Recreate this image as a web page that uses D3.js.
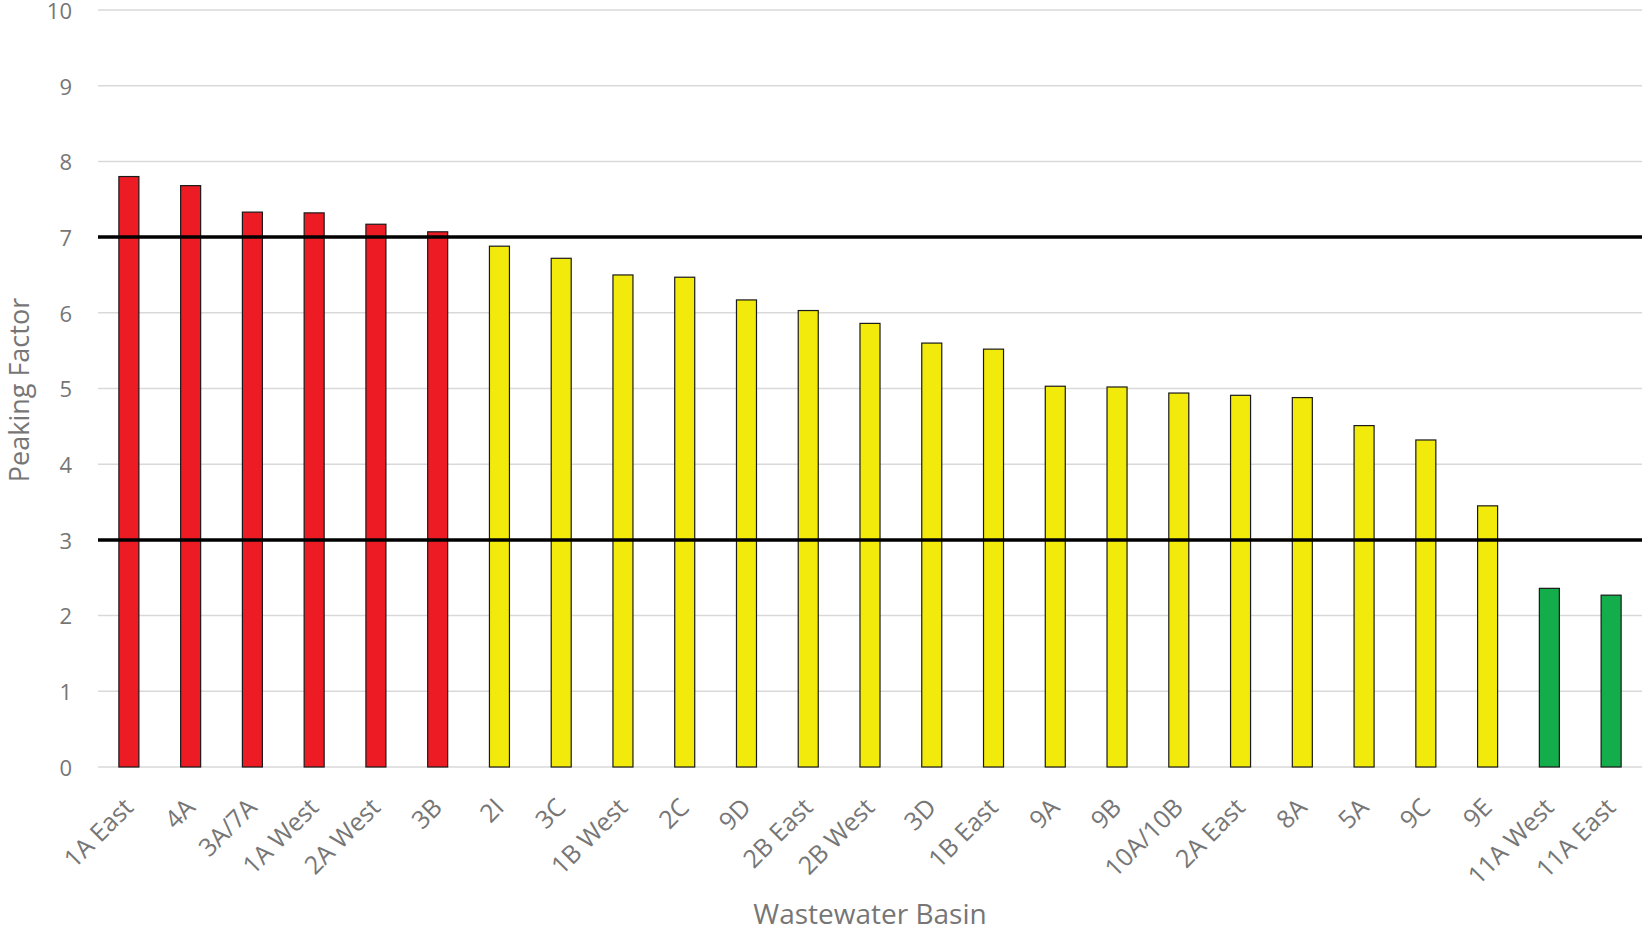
<!DOCTYPE html>
<html><head><meta charset="utf-8">
<script src="https://cdn.jsdelivr.net/npm/d3@7"></script>
<style>
html,body{margin:0;padding:0;background:#fff;}
svg{display:block;}
text{font-family:"Open Sans","Lato",sans-serif;}
</style></head>
<body><svg id="chart" width="1642" height="934"></svg>
<script>
const categories = ["1A East","4A","3A/7A","1A West","2A West","3B","2I","3C","1B West","2C","9D","2B East","2B West","3D","1B East","9A","9B","10A/10B","2A East","8A","5A","9C","9E","11A West","11A East"];
const values = [7.80,7.68,7.33,7.32,7.17,7.07,6.88,6.72,6.50,6.47,6.17,6.03,5.86,5.60,5.52,5.03,5.02,4.94,4.91,4.88,4.51,4.32,3.45,2.36,2.27];
const groups = ["high","high","high","high","high","high","mid","mid","mid","mid","mid","mid","mid","mid","mid","mid","mid","mid","mid","mid","mid","mid","mid","low","low"];
const yTicks = [0,1,2,3,4,5,6,7,8,9,10];
const thresholds = [7,3];
const groupColors = {high:"#ED1C24", mid:"#F2EA0A", low:"#13AD4B"};

(function(){
const svg = d3.select("#chart");
const mLeft = 98, mRight = 1642, mTop = 10, mBottom = 767;

const x = d3.scaleBand().domain(categories).range([mLeft, mRight]).paddingInner(0.676).paddingOuter(0.338);
const y = d3.scaleLinear().domain([0,10]).range([mBottom, mTop]);

// gridlines
svg.append("g").selectAll("line").data(yTicks).join("line")
  .attr("x1", mLeft).attr("x2", mRight)
  .attr("y1", d=>y(d)).attr("y2", d=>y(d))
  .attr("stroke", "#d9d9d9").attr("stroke-width", 1.5);

// y tick labels
const yAxis = d3.axisLeft(y).tickValues(yTicks).tickSize(0).tickPadding(0);
const ya = svg.append("g").attr("transform", `translate(${mLeft-26},0)`).call(yAxis);
ya.select(".domain").remove();
ya.selectAll("text").attr("fill","#767676").style("font-size","22px").style("font-family",'"Open Sans",sans-serif').attr("dy","0.38em");

// bars
svg.append("g").selectAll("rect").data(categories).join("rect")
  .attr("x", d=>x(d)).attr("width", x.bandwidth())
  .attr("y", (d,i)=>y(values[i])).attr("height", (d,i)=>y(0)-y(values[i]))
  .attr("fill", (d,i)=>groupColors[groups[i]])
  .attr("stroke", "#1a1a1a").attr("stroke-width", 1.2);

// threshold lines
svg.append("g").selectAll("line").data(thresholds).join("line")
  .attr("x1", mLeft).attr("x2", mRight)
  .attr("y1", d=>y(d)).attr("y2", d=>y(d))
  .attr("stroke", "#000").attr("stroke-width", 3.5);

// x labels
const xAxis = d3.axisBottom(x).tickSize(0).tickPadding(0);
const xa = svg.append("g").attr("transform", `translate(0,${mBottom})`).call(xAxis);
xa.select(".domain").remove();
xa.selectAll("text")
  .attr("fill","#767676").style("font-size","25px").style("font-family",'"Open Sans",sans-serif')
  .attr("text-anchor","end").attr("dy",null).attr("y",0)
  .attr("transform","translate(6,42) rotate(-45)");

// axis titles
svg.append("text").attr("x", (mLeft+mRight)/2).attr("y", 917)
  .attr("text-anchor","middle").attr("dominant-baseline","middle")
  .attr("fill","#767676").style("font-size","28px").text("Wastewater Basin");
svg.append("text").attr("transform", `translate(22,390) rotate(-90)`)
  .attr("text-anchor","middle").attr("dominant-baseline","middle")
  .attr("fill","#767676").style("font-size","27px").text("Peaking Factor");
})();
</script></body></html>
